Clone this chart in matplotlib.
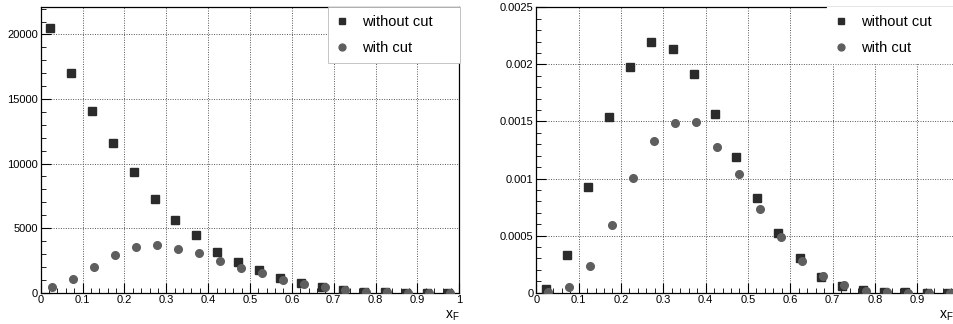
import numpy as np
import matplotlib.pyplot as plt
from matplotlib.ticker import MultipleLocator, FuncFormatter

plt.rcParams['font.family'] = ['Liberation Sans', 'DejaVu Sans']

# bin centres in x_F (20 bins of 0.05)
xf = np.arange(0.025, 1.0, 0.05)

# event counts
counts_nocut = [20500, 17000, 14050, 11580, 9310, 7280, 5600, 4490, 3150, 2350,
                1730, 1160, 720, 440, 210, 80, 30, 15, 5, 2]
counts_cut = [440, 1080, 1960, 2940, 3560, 3690, 3400, 3100, 2480, 1910,
              1500, 960, 670, 410, 210, 60, 25, 10, 5, 2]

# normalised distributions
norm_nocut = [0.000035, 0.000333, 0.000923, 0.001542, 0.001974, 0.002196, 0.002138,
              0.001916, 0.001568, 0.001189, 0.000832, 0.000523, 0.000301, 0.00014,
              0.000061, 0.000023, 0.000006, 0.000002, 0.000001, 0.0]
norm_cut = [0.000003, 0.000047, 0.000237, 0.000596, 0.001008, 0.001326, 0.001484,
            0.001495, 0.001279, 0.001037, 0.000733, 0.000485, 0.000275, 0.000143,
            0.00007, 0.0000175, 0.000003, 0.0, 0.0, 0.0]

W, H = 954, 324
fig = plt.figure(figsize=(W / 100, H / 100), dpi=100)

ax1 = fig.add_axes([40.7 / W, 1 - 292.7 / H, 418.6 / W, 285.4 / H])
ax2 = fig.add_axes([536.3 / W, 1 - 292.7 / H, 423.3 / W, 285.4 / H])


def root_fmt(v, pos):
    if abs(v) < 1e-12:
        return '0'
    return ('%.4f' % v).rstrip('0').rstrip('.')


def style(ax, ymax, ymajor, yminor, yfmt, xfmt):
    ax.set_xlim(0, 1)
    ax.set_ylim(0, ymax)
    ax.xaxis.set_major_locator(MultipleLocator(0.1))
    ax.xaxis.set_minor_locator(MultipleLocator(0.02))
    ax.yaxis.set_major_locator(MultipleLocator(ymajor))
    ax.yaxis.set_minor_locator(MultipleLocator(yminor))
    ax.xaxis.set_major_formatter(xfmt)
    ax.yaxis.set_major_formatter(yfmt)
    ax.tick_params(which='both', direction='in', labelsize=8, colors='black',
                   top=False, right=False)
    ax.tick_params(which='major', length=7, width=0.8, pad=2)
    ax.tick_params(which='minor', length=3.5, width=0.6)
    ax.grid(True, which='major', color='#555555', linestyle=(0, (1, 1.5)), linewidth=0.7)
    for sp in ax.spines.values():
        sp.set_linewidth(0.9)
    ax.set_axisbelow(True)


style(ax1, 22100, 5000, 1000, FuncFormatter(lambda v, p: '%d' % v), FuncFormatter(root_fmt))
# right pad runs past the canvas edge, so its last x label is not drawn
style(ax2, 0.0025, 0.0005, 0.0001, FuncFormatter(root_fmt),
      FuncFormatter(lambda v, p: '' if v > 0.95 else root_fmt(v, p)))

for ax, a, b in [(ax1, counts_nocut, counts_cut), (ax2, norm_nocut, norm_cut)]:
    ax.plot(xf - 0.003, a, 's', color='#2b2b2b', markersize=5.5, linestyle='none',
            label='without cut', zorder=3)
    ax.plot(xf + 0.003, b, 'o', color='#5e5e5e', markersize=5.5, linestyle='none',
            label='with cut', zorder=3)

# legend boxes, placed in figure pixels
leg_kw = dict(bbox_transform=fig.transFigure, mode='expand', fontsize=10.5,
              frameon=True, fancybox=False, framealpha=1, loc='upper left',
              handlelength=0.8, handletextpad=0.95, labelspacing=0.8,
              borderaxespad=0, borderpad=0.55, markerscale=0.9)
leg1 = ax1.legend(bbox_to_anchor=(328 / W, 1 - 61 / H, 132 / W, 54 / H),
                  edgecolor='#bbbbbb', **leg_kw)
leg1.get_frame().set_linewidth(0.6)
leg1.set_zorder(5)

leg2 = ax2.legend(bbox_to_anchor=(827 / W, 1 - 61 / H, 160 / W, 54 / H),
                  edgecolor='white', **leg_kw)
leg2.set_zorder(5)

fig.text(452 / W, 1 - 316 / H, r'$\mathregular{x_F}$', fontsize=10, ha='center', va='center')
fig.text(946 / W, 1 - 316 / H, r'$\mathregular{x_F}$', fontsize=10, ha='center', va='center')

fig.savefig('out.png', dpi=100)
